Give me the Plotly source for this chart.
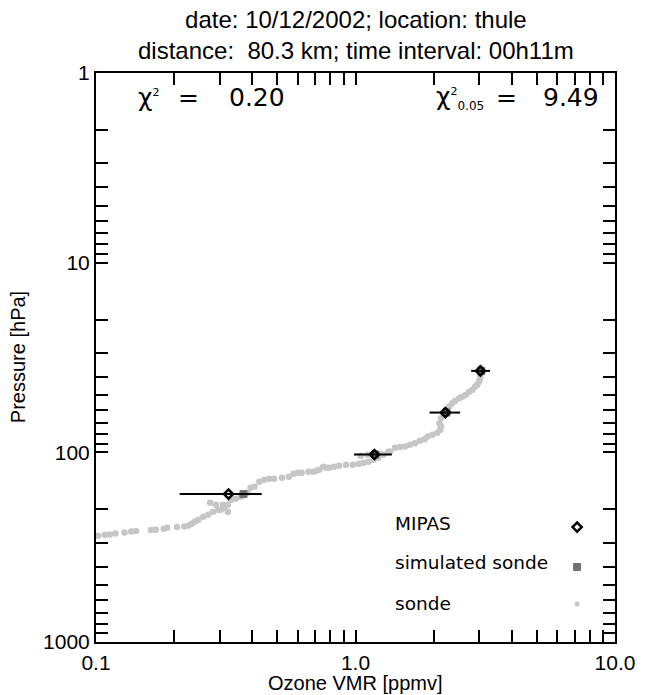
import plotly.graph_objects as go

# ---------------- data ----------------
sonde_ozone = [0.102, 0.1082, 0.1130, 0.1188, 0.1288, 0.1366, 0.1427, 0.1627, 0.1699, 0.1826,
               0.1880, 0.2051, 0.2188, 0.2272, 0.2338, 0.2408, 0.2479, 0.2590, 0.2705, 0.2826,
               0.2952, 0.3111, 0.3222, 0.3084, 0.2901, 0.2753, 0.3030, 0.3222, 0.3307, 0.3455,
               0.3609, 0.3737, 0.3837, 0.3939, 0.4078, 0.4260, 0.4450, 0.4648, 0.4856, 0.5207,
               0.5534, 0.5781, 0.5987, 0.6199, 0.6592, 0.6885, 0.7068, 0.7256, 0.7513, 0.7712,
               0.7917, 0.8270, 0.8639, 0.9184, 0.9763, 1.029, 1.047, 1.075, 1.113, 1.123, 1.173,
               1.225, 1.246, 1.280, 1.337, 1.360, 1.421, 1.484, 1.551, 1.620, 1.692, 1.768,
               1.847, 1.896, 1.981, 2.069, 2.123, 2.137, 2.105, 2.137, 2.180, 2.218, 2.257,
               2.297, 2.358, 2.420, 2.506, 2.573, 2.658, 2.735, 2.815, 2.883, 2.941, 2.985,
               3.011, 3.024, 3.029, 3.045]
sonde_pressure = [275.1, 271.8, 270.8, 267.6, 264.3, 261.1, 259.8, 256.7, 255.8, 252.7,
                  249.7, 247.6, 245.8, 242.8, 237.9, 231.3, 226.6, 218.5, 213.3, 205.7,
                  200.8, 196.0, 189.0, 189.0, 189.0, 184.4, 200.8, 205.7, 177.8, 175.7,
                  171.5, 167.4, 163.4, 153.8, 151.9, 143.0, 139.6, 137.9, 137.9, 136.2,
                  134.6, 129.8, 128.2, 128.2, 126.7, 126.7, 125.1, 123.6, 119.2, 120.7,
                  120.7, 119.2, 117.8, 116.4, 116.4, 115.0, 104.3, 113.6, 103.1, 112.2, 109.5,
                  106.9, 101.8, 103.1, 99.4, 99.4, 94.7, 93.6, 93.2, 91.3, 89.5, 87.0,
                  85.2, 82.6, 80.9, 78.9, 76.1, 73.1, 70.2, 66.1, 63.5, 62.2, 59.8,
                  57.4, 55.1, 53.6, 51.8, 51.0, 49.8, 48.0, 46.9, 45.2, 44.1, 42.6,
                  41.5, 39.6, 38.3, 36.1]

mipas_pressure = [166.0, 102.7, 61.7, 37.2]
mipas_ozone = [0.324, 1.183, 2.22, 3.03]
mipas_err_low = [0.21, 0.987, 1.93, 2.79]
mipas_err_high = [0.435, 1.38, 2.53, 3.30]
sim_ozone = [0.370, 1.19, 2.24, 3.05]

x_tickvals = [0.1, 1.0, 10.0]
x_ticktext = ["0.1", "1.0", "10.0"]
y_tickvals = [1, 10, 100, 1000]
y_ticktext = ["1", "10", "100", "1000"]

title_lines = ["date: 10/12/2002; location: thule",
               "distance:&nbsp;&nbsp;80.3 km; time interval: 00h11m"]
legend_labels = ["MIPAS", "simulated sonde", "sonde"]
chi_value = "0.20"
chi_crit = "9.49"

# ---------------- figure ----------------
BLACK = "#000000"
SONDE_C = "#c6c6c6"
SIM_C = "#707070"

fig = go.Figure()

fig.add_trace(go.Scatter(x=sonde_ozone, y=sonde_pressure, mode="markers",
                         marker=dict(symbol="circle", size=6.5, color=SONDE_C, line=dict(width=0)),
                         showlegend=False, hoverinfo="skip"))

err_plus = [h - o for h, o in zip(mipas_err_high, mipas_ozone)]
err_minus = [o - l for o, l in zip(mipas_ozone, mipas_err_low)]

fig.add_trace(go.Scatter(x=sim_ozone, y=mipas_pressure, mode="markers",
                         marker=dict(symbol="square", size=7, color=SIM_C,
                                     line=dict(width=1, color=SIM_C)),
                         showlegend=False))

fig.add_trace(go.Scatter(x=mipas_ozone, y=mipas_pressure, mode="markers",
                         marker=dict(symbol="diamond-open", size=7, color=BLACK,
                                     line=dict(width=2.5, color=BLACK)),
                         error_x=dict(type="data", array=err_plus, arrayminus=err_minus,
                                      thickness=2, width=0, color=BLACK),
                         showlegend=False))

# legend glyphs on an invisible overlay axis
leg_y_text = [0.209, 0.139, 0.0685]
leg_y_sym = [0.202, 0.1317, 0.0667]
leg_x_sym = 0.927
fig.add_trace(go.Scatter(x=[leg_x_sym], y=[leg_y_sym[0]], xaxis="x2", yaxis="y2", mode="markers",
                         marker=dict(symbol="diamond-open", size=7, color=BLACK,
                                     line=dict(width=2.5, color=BLACK)), showlegend=False))
fig.add_trace(go.Scatter(x=[leg_x_sym], y=[leg_y_sym[1]], xaxis="x2", yaxis="y2", mode="markers",
                         marker=dict(symbol="square", size=7, color=SIM_C,
                                     line=dict(width=1, color=SIM_C)), showlegend=False))
fig.add_trace(go.Scatter(x=[leg_x_sym], y=[leg_y_sym[2]], xaxis="x2", yaxis="y2", mode="markers",
                         marker=dict(symbol="circle", size=5, color=SONDE_C), showlegend=False))

# carrier traces for the mirrored (top / right) axes
fig.add_trace(go.Scatter(x=[mipas_ozone[0]], y=[mipas_pressure[0]], xaxis="x3", yaxis="y",
                         mode="markers", marker=dict(size=1, opacity=0),
                         showlegend=False, hoverinfo="skip"))
fig.add_trace(go.Scatter(x=[mipas_ozone[0]], y=[mipas_pressure[0]], xaxis="x", yaxis="y3",
                         mode="markers", marker=dict(size=1, opacity=0),
                         showlegend=False, hoverinfo="skip"))

FONT_MAIN = "Liberation Sans, Arial, sans-serif"
FONT_HERSHEY = "DejaVu Sans, sans-serif"

annotations = [dict(text="<br>".join(title_lines), xref="paper", yref="paper", x=0.5, y=1.066,
                    xanchor="center", yanchor="middle", showarrow=False,
                    font=dict(family=FONT_MAIN, size=24, color=BLACK))]
for lab, yy in zip(legend_labels, leg_y_text):
    annotations.append(dict(text=lab, xref="paper", yref="paper", x=0.5725, y=yy,
                            xanchor="left", yanchor="middle", showarrow=False,
                            font=dict(family=FONT_HERSHEY, size=18.5, color=BLACK)))
CHI = 25
chi_left = "χ<sup><span style='font-size:11px'>2</span></sup>"
chi_right = ("χ<sup><span style='font-size:11px'>2</span></sup>"
             "<sub><span style='font-size:12px'>0.05</span></sub>")
annotations += [
    dict(text=chi_left, xref="paper", yref="paper", x=0.0777, y=0.957,
         xanchor="left", yanchor="middle", showarrow=False,
         font=dict(family=FONT_HERSHEY, size=CHI, color=BLACK)),
    dict(text="=", xref="paper", yref="paper", x=0.178, y=0.957,
         xanchor="center", yanchor="middle", showarrow=False,
         font=dict(family=FONT_HERSHEY, size=CHI, color=BLACK)),
    dict(text=chi_value, xref="paper", yref="paper", x=0.252, y=0.957,
         xanchor="left", yanchor="middle", showarrow=False,
         font=dict(family=FONT_HERSHEY, size=CHI, color=BLACK)),
    dict(text=chi_right, xref="paper", yref="paper", x=0.652, y=0.957,
         xanchor="left", yanchor="middle", showarrow=False,
         font=dict(family=FONT_HERSHEY, size=CHI, color=BLACK)),
    dict(text="=", xref="paper", yref="paper", x=0.790, y=0.957,
         xanchor="center", yanchor="middle", showarrow=False,
         font=dict(family=FONT_HERSHEY, size=CHI, color=BLACK)),
    dict(text=chi_crit, xref="paper", yref="paper", x=0.9725, y=0.957,
         xanchor="right", yanchor="middle", showarrow=False,
         font=dict(family=FONT_HERSHEY, size=CHI, color=BLACK)),
    dict(text="Ozone VMR [ppmv]", xref="paper", yref="paper", x=0.5, y=-0.0715,
         xanchor="center", yanchor="middle", showarrow=False,
         font=dict(family=FONT_MAIN, size=20, color=BLACK)),
    dict(text="Pressure [hPa]", xref="paper", yref="paper", x=-0.151, y=0.5,
         xanchor="center", yanchor="middle", showarrow=False, textangle=-90,
         font=dict(family=FONT_MAIN, size=20, color=BLACK)),
]

x_minor = [m * d for d in (0.1, 1.0) for m in range(2, 10)]
y_minor = [m * d for d in (1, 10, 100) for m in range(2, 10)]

tick_common = dict(ticks="inside", ticklen=12, tickwidth=2, tickcolor=BLACK,
                   showline=True, linewidth=2, linecolor=BLACK,
                   showgrid=False, zeroline=False)
minor_x = dict(tickvals=x_minor, ticks="inside", ticklen=6, tickwidth=2,
               tickcolor=BLACK, showgrid=False)
minor_y = dict(tickvals=y_minor, ticks="inside", ticklen=6, tickwidth=2,
               tickcolor=BLACK, showgrid=False)

fig.update_layout(
    width=647, height=695,
    margin=dict(l=96, r=23.5, t=72.5, b=53, pad=0),
    paper_bgcolor="white", plot_bgcolor="white",
    showlegend=False,
    annotations=annotations,
    xaxis=dict(type="log", range=[-1, 1], tickvals=x_tickvals, ticktext=x_ticktext,
               tickfont=dict(family=FONT_MAIN, size=21, color=BLACK),
               ticklabelstandoff=1, minor=minor_x, mirror="allticks", **tick_common),
    yaxis=dict(type="log", range=[3, 0], tickvals=y_tickvals, ticktext=y_ticktext,
               tickfont=dict(family=FONT_MAIN, size=21, color=BLACK),
               ticklabelstandoff=0, minor=minor_y, mirror="allticks", **tick_common),
    xaxis2=dict(overlaying="x", range=[0, 1], visible=False),
    yaxis2=dict(overlaying="y", range=[0, 1], visible=False),
    xaxis3=dict(overlaying="x", side="top", anchor="y", type="log", range=[-1, 1],
                tickvals=x_tickvals, showticklabels=False, minor=minor_x, **tick_common),
    yaxis3=dict(overlaying="y", side="right", anchor="x", type="log", range=[3, 0],
                tickvals=y_tickvals, showticklabels=False, minor=minor_y, **tick_common),
)

fig.write_html("out.html")
